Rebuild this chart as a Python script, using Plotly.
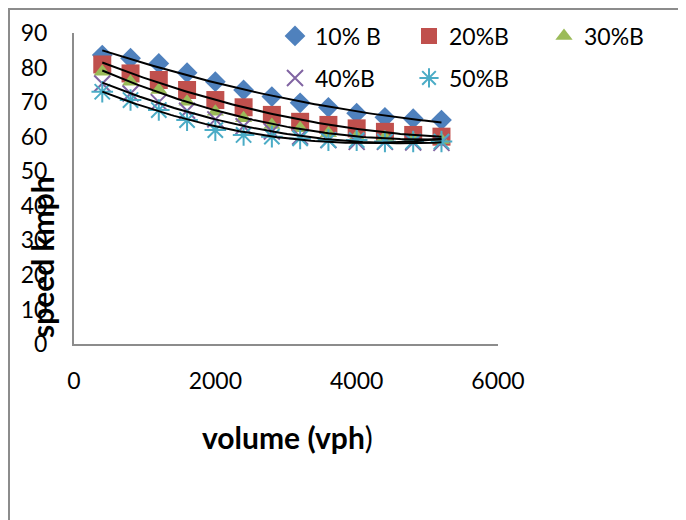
import numpy as np
import plotly.graph_objects as go

volume = [400, 800, 1200, 1600, 2000, 2400, 2800, 3200, 3600, 4000, 4400, 4800, 5200]
b10 = [83.6, 82.7, 81.2, 78.5, 75.9, 73.5, 71.6, 69.8, 68.5, 66.8, 65.6, 65.2, 64.8]
b20 = [80.9, 78.3, 76.4, 73.5, 70.6, 68.5, 66.3, 64.3, 63.4, 62.4, 61.4, 60.5, 60.0]
b30 = [78.8, 75.9, 73.5, 70.1, 67.2, 65.3, 63.4, 62.4, 61.0, 60.0, 59.8, 59.3, 59.0]
b40 = [75.4, 72.5, 70.0, 67.5, 65.0, 63.0, 61.5, 60.0, 59.0, 58.5, 58.5, 58.3, 58.2]
b50 = [73.0, 70.6, 67.7, 64.8, 61.9, 60.5, 60.0, 59.5, 59.0, 59.0, 58.6, 58.6, 58.6]
names = ["10% B", "20%B", "30%B", "40%B", "50%B"]
x_ticks = [0, 2000, 4000, 6000]
y_ticks = [0, 10, 20, 30, 40, 50, 60, 70, 80, 90]

series = [b10, b20, b30, b40, b50]
colors = ["#4F81BD", "#C0504D", "#9BBB59", "#8064A2", "#4BACC6"]
symbols = ["diamond", "square", "triangle-up", "x-thin-open", "asterisk-open"]
sizes = [16, 18, 15, 16, 18]
legends = ["legend", "legend", "legend3", "legend2", "legend2"]

W, H = 686, 520
O = 8  # page body offset
# target screen-pixel plot area: x 74..498, y 33..344
L, T = 74 - O, 33 - O
R, B = W - (498 - O), H - (344 - O)
pw, ph = W - L - R, H - T - B
def px(x): return (x - O - L) / pw
def py(y): return (H - B - (y - O)) / ph
def cx(x): return (x - O) / W
def cy(y): return 1 - (y - O) / H

fig = go.Figure()
for s, n, c, sym, sz, lg in zip(series, names, colors, symbols, sizes, legends):
    line = dict(width=2, color=c) if "open" in sym else dict(width=0)
    fig.add_trace(go.Scatter(x=volume, y=s, mode="markers", name=n, legend=lg,
                             marker=dict(symbol=sym, size=sz, color=c, line=line)))

xs = np.linspace(volume[0], volume[-1], 100)
for s in series:
    coef = np.polyfit(volume, s, 2)
    fig.add_trace(go.Scatter(x=xs, y=np.polyval(coef, xs), mode="lines", showlegend=False,
                             line=dict(color="black", width=2), hoverinfo="skip"))

font = dict(family="Lato, 'Liberation Sans', sans-serif", color="black")
axis_common = dict(showgrid=False, zeroline=False, showline=True, linecolor="#8c8c8c",
                   linewidth=2, ticks="", tickfont=dict(size=23, **font), automargin=False)

def leg(xpix, ypix):
    return dict(orientation="h", xref="container", yref="container", x=cx(xpix), xanchor="left",
                y=cy(ypix), yanchor="middle", entrywidth=89, entrywidthmode="pixels",
                bgcolor="rgba(0,0,0,0)", font=dict(size=23, **font), itemclick=False)

fig.update_layout(
    width=W, height=H, margin=dict(l=L, r=R, t=T, b=B, autoexpand=False),
    paper_bgcolor="white", plot_bgcolor="white",
    xaxis=dict(range=[0, 6000], tickvals=x_ticks, ticklabelstandoff=15, **axis_common),
    yaxis=dict(range=[0, 90], tickvals=y_ticks, ticklabelstandoff=20, **axis_common),
    legend=leg(275, 36), legend2=leg(275, 78), legend3=leg(544, 36),
    showlegend=True,
    annotations=[
        dict(text="<b>speed kmph</b>", textangle=-90, x=px(42), y=py(257), xref="paper", yref="paper",
             showarrow=False, font=dict(size=30, **font), xanchor="center", yanchor="middle"),
        dict(text="<b>volume (vph</b>)", x=px(287), y=py(437), xref="paper", yref="paper",
             showarrow=False, font=dict(size=30, **font), xanchor="center", yanchor="middle"),
    ],
    shapes=[dict(type="rect", xref="paper", yref="paper", x0=px(9), x1=px(730), y0=py(9), y1=py(580),
                 line=dict(color="#8c8c8c", width=2), fillcolor="rgba(0,0,0,0)", layer="below")],
)

fig.write_html("out.html")
